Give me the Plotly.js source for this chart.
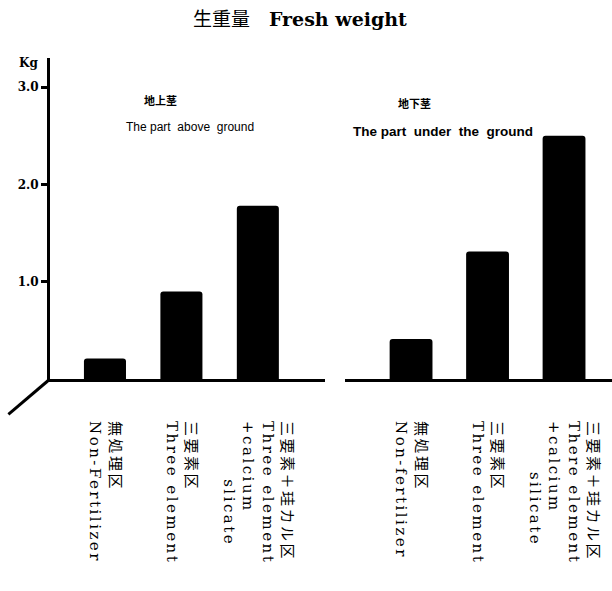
<!DOCTYPE html>
<html>
<head>
<meta charset="utf-8">
<script src="https://cdn.plot.ly/plotly-3.0.1.min.js"></script>
<style>
html,body{margin:0;padding:0;background:#fff;}
#chart{width:612px;height:591px;}
.xtick text, .x2tick text { letter-spacing: 2.5px; }
</style>
</head>
<body>
<div id="chart"></div>
<script>
// ---- data ----
const categoriesAbove = [
  "無処理区<br>Non-Fertilizer",
  "三要素区<br>Three element",
  "三要素＋珪カル区<br>Three element<br>+calcium<br>\u00a0\u00a0\u00a0\u00a0\u00a0\u00a0\u00a0\u00a0slicate"
];
const categoriesBelow = [
  "無処理区<br>Non-fertilizer",
  "三要素区<br>Three element",
  "三要素＋珪カル区<br>There element<br>+calcium<br>\u00a0\u00a0\u00a0\u00a0\u00a0\u00a0\u00a0silicate"
];
const valuesAbove = [0.21, 0.90, 1.78];
const valuesBelow = [0.41, 1.31, 2.50];
const yTickVals = [1, 2, 3];
const yTickText = ["1.0", "2.0", "3.0"];

const serif = "'DejaVu Serif', 'Liberation Serif', 'Noto Sans CJK JP', serif";
const cjk = "'Noto Sans CJK JP', 'DejaVu Sans', sans-serif";
const sansN = "'Liberation Sans', 'DejaVu Sans', sans-serif";

const traces = [
  {type: "bar", x: categoriesAbove, y: valuesAbove, xaxis: "x", yaxis: "y",
   marker: {color: "#000", cornerradius: 3}, width: 0.55, hoverinfo: "none"},
  {type: "bar", x: categoriesBelow, y: valuesBelow, xaxis: "x2", yaxis: "y",
   marker: {color: "#000", cornerradius: 3}, width: 0.56, hoverinfo: "none"}
];

const xcommon = {
  type: "category", showline: true, linewidth: 3, linecolor: "#000",
  showgrid: false, zeroline: false, ticks: "", tickangle: 90, ticklabelstandoff: 36,
  tickfont: {family: serif, size: 15, color: "#000"}, automargin: false
};

const layout = {
  width: 612, height: 591,
  margin: {l: 50, r: 0, t: 58, b: 212},
  paper_bgcolor: "#fff", plot_bgcolor: "#fff",
  showlegend: false,
  title: {text: "生重量\u2003<b>Fresh weight</b>", x: 0.49, xanchor: "center", y: 0.968, yanchor: "middle",
          font: {family: serif, size: 19, color: "#000"}},
  xaxis: Object.assign({}, xcommon, {domain: [0, 0.489], range: [-0.719, 2.876], anchor: "y"}),
  xaxis2: Object.assign({}, xcommon, {domain: [0.525, 1], range: [-0.863, 2.627], anchor: "y"}),
  yaxis: {range: [0, 3.3], showline: true, linewidth: 3, linecolor: "#000",
          showgrid: false, zeroline: false, ticks: "outside", ticklen: 6, tickwidth: 3,
          tickcolor: "#000", tickvals: yTickVals, ticktext: yTickText,
          tickfont: {family: serif, size: 12, color: "#000", weight: "bold"}},
  shapes: [
    {type: "line", xref: "paper", yref: "paper", x0: 0, y0: 0, x1: -0.074, y1: -0.11,
     line: {color: "#000", width: 3}}
  ],
  annotations: [
    {text: "<b>Kg</b>", xref: "paper", yref: "paper", x: -0.039, y: 0.984, xanchor: "center", yanchor: "middle",
     showarrow: false, font: {family: serif, size: 12, color: "#000"}},
    {text: "<b>地上茎</b>", xref: "paper", yref: "paper", x: 0.196, y: 0.87, xanchor: "center", yanchor: "middle",
     showarrow: false, font: {family: cjk, size: 11, color: "#000"}},
    {text: "The part  above  ground", xref: "paper", yref: "paper", x: 0.249, y: 0.785, xanchor: "center", yanchor: "middle",
     showarrow: false, font: {family: sansN, size: 12, color: "#000"}},
    {text: "<b>地下茎</b>", xref: "paper", yref: "paper", x: 0.649, y: 0.86, xanchor: "center", yanchor: "middle",
     showarrow: false, font: {family: cjk, size: 11, color: "#000"}},
    {text: "<b>The part  under  the  ground</b>", xref: "paper", yref: "paper", x: 0.7, y: 0.77, xanchor: "center", yanchor: "middle",
     showarrow: false, font: {family: sansN, size: 13.5, color: "#000"}}
  ]
};

Plotly.newPlot("chart", traces, layout, {staticPlot: true, displayModeBar: false});
</script>
</body>
</html>
